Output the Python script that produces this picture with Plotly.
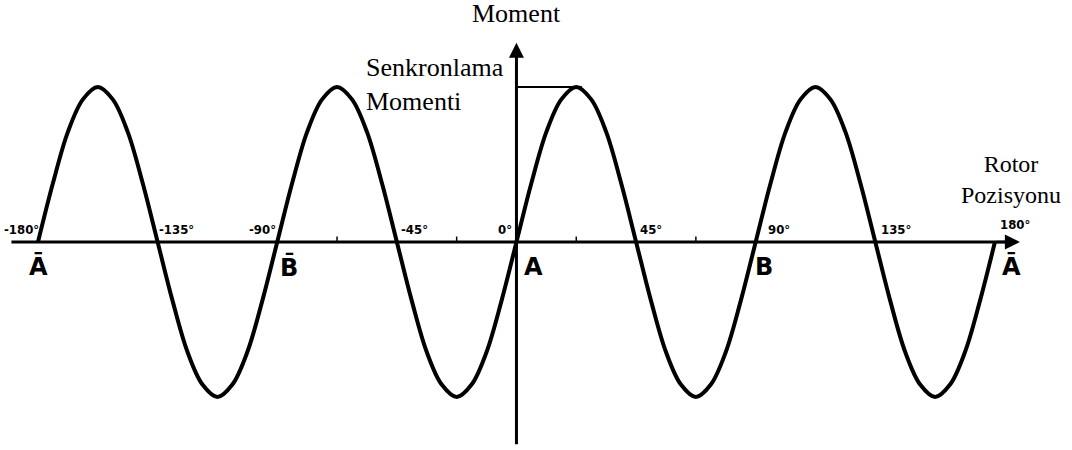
import plotly.graph_objects as go

# ---- data ----
rotor_angle = [-180, -174.375, -168.75, -163.125, -157.5, -151.875, -146.25, -140.625,
               -135, -129.375, -123.75, -118.125, -112.5, -106.875, -101.25, -95.625,
               -90, -84.375, -78.75, -73.125, -67.5, -61.875, -56.25, -50.625,
               -45, -39.375, -33.75, -28.125, -22.5, -16.875, -11.25, -5.625,
               0, 5.625, 11.25, 16.875, 22.5, 28.125, 33.75, 39.375,
               45, 50.625, 56.25, 61.875, 67.5, 73.125, 78.75, 84.375,
               90, 95.625, 101.25, 106.875, 112.5, 118.125, 123.75, 129.375,
               135, 140.625, 146.25, 151.875, 157.5, 163.125, 168.75, 174.375, 180]
moment = [0, 0.38, 0.71, 0.92, 1.0, 0.92, 0.71, 0.38,
          0, -0.38, -0.71, -0.92, -1.0, -0.92, -0.71, -0.38,
          0, 0.38, 0.71, 0.92, 1.0, 0.92, 0.71, 0.38,
          0, -0.38, -0.71, -0.92, -1.0, -0.92, -0.71, -0.38,
          0, 0.38, 0.71, 0.92, 1.0, 0.92, 0.71, 0.38,
          0, -0.38, -0.71, -0.92, -1.0, -0.92, -0.71, -0.38,
          0, 0.38, 0.71, 0.92, 1.0, 0.92, 0.71, 0.38,
          0, -0.38, -0.71, -0.92, -1.0, -0.92, -0.71, -0.38, 0]
tick_values = [-180, -135, -90, -45, 0, 45, 90, 135, 180]
tick_labels = ["-180°", "-135°", "-90°", "-45°", "0°", "45°", "90°", "135°", "180°"]
minor_ticks = [-67.5, -22.5, 22.5, 67.5]
phase_positions = [-180, -90, 0, 90, 180]
phase_labels = ["A\u0304", "B\u0304", "A", "B", "A\u0304"]
sync_moment = 1.0

# ---- styling / layout ----
W, H = 1072, 450
x_range = [-194.3, 209.0]
y_range = [-1.342, 1.561]
tick_label_shift = [-17, 19, -15, 18, -11, 15, 23, 21, 20]
phase_label_shift = [0, 12, 17, 8, 17]

fig = go.Figure()
fig.add_trace(go.Scatter(x=rotor_angle, y=moment, mode="lines",
                         line=dict(color="black", width=4, shape="spline", smoothing=1.0),
                         hoverinfo="skip", showlegend=False))

shapes = []
shapes.append(dict(type="line", xref="x", yref="y", x0=-190, x1=186, y0=0, y1=0,
                   line=dict(color="black", width=3)))
shapes.append(dict(type="line", xref="x", yref="y", x0=0, x1=0, y0=-1.305, y1=1.24,
                   line=dict(color="black", width=3)))
shapes.append(dict(type="line", xref="x", yref="y", x0=0, x1=24.6, y0=sync_moment, y1=sync_moment,
                   line=dict(color="black", width=2)))
for t in minor_ticks:
    shapes.append(dict(type="line", xref="x", yref="y", x0=t, x1=t, y0=0, y1=0.035,
                       line=dict(color="black", width=1.5)))

annotations = []
annotations.append(dict(x=189.4, y=0, ax=180, ay=0, xref="x", yref="y", axref="x", ayref="y",
                        text="", showarrow=True, arrowhead=2, arrowsize=1.2, arrowwidth=2.5,
                        arrowcolor="black"))
annotations.append(dict(x=0, y=1.285, ax=0, ay=1.2, xref="x", yref="y", axref="x", ayref="y",
                        text="", showarrow=True, arrowhead=2, arrowsize=1.2, arrowwidth=2.5,
                        arrowcolor="black"))

serif = "Liberation Serif"
tick_font = dict(family="DejaVu Sans Condensed, DejaVu Sans", size=13, color="black")
for v, lab, s in zip(tick_values, tick_labels, tick_label_shift):
    annotations.append(dict(x=v, y=0, xref="x", yref="y", text="<b>" + lab + "</b>",
                            showarrow=False, xshift=s, yshift=(17 if v == 180 else 12),
                            font=tick_font))
for v, lab, s in zip(phase_positions, phase_labels, phase_label_shift):
    annotations.append(dict(x=v, y=0, xref="x", yref="y", text="<b>" + lab + "</b>",
                            showarrow=False, xshift=s, yshift=-25,
                            font=dict(family="DejaVu Sans", size=24, color="black")))

annotations.append(dict(x=0, y=1.475, xref="x", yref="y", text="Moment", showarrow=False,
                        font=dict(family=serif, size=26, color="black")))
annotations.append(dict(x=0, y=sync_moment, xref="x", yref="y",
                        text="Senkronlama<br>Momenti", showarrow=False, align="left",
                        xanchor="right", xshift=-10, yshift=2,
                        font=dict(family=serif, size=26, color="black")))
annotations.append(dict(x=185, y=0, xref="x", yref="y", text="Rotor<br>Pozisyonu",
                        showarrow=False, align="center", xanchor="center", xshift=3, yshift=62,
                        font=dict(family=serif, size=24, color="black")))

fig.update_layout(
    width=W, height=H, margin=dict(l=0, r=0, t=0, b=0),
    paper_bgcolor="white", plot_bgcolor="white",
    xaxis=dict(range=x_range, visible=False, fixedrange=True),
    yaxis=dict(range=y_range, visible=False, fixedrange=True),
    shapes=shapes, annotations=annotations, showlegend=False,
)
fig.write_html("out.html", config={"displayModeBar": False},
               post_script="document.body.style.margin='0px';")
